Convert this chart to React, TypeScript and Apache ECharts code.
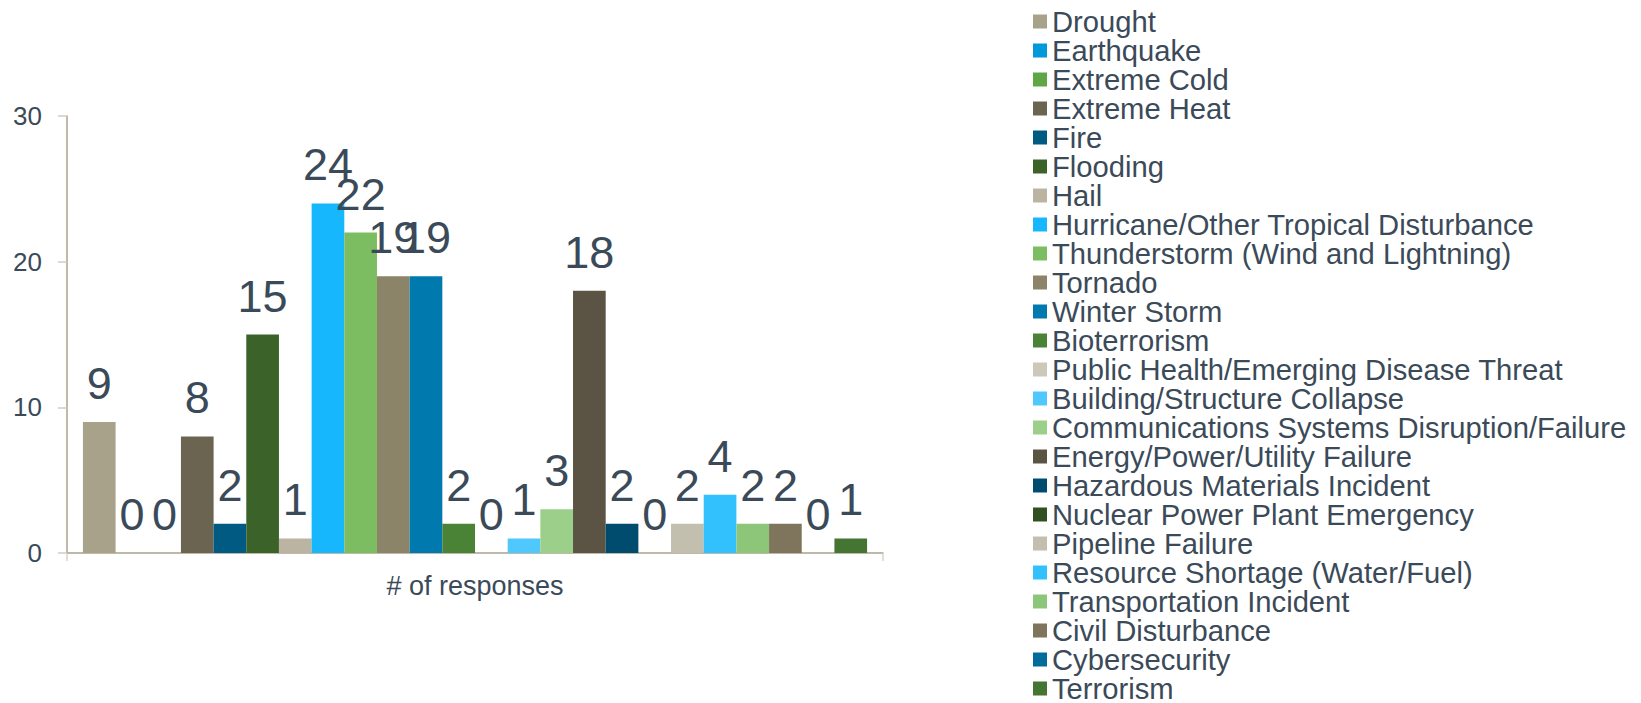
import React, { useEffect, useRef } from "react";
import * as echarts from "echarts";

const categories = ["# of responses"];

const seriesNames = [
  "Drought",
  "Earthquake",
  "Extreme Cold",
  "Extreme Heat",
  "Fire",
  "Flooding",
  "Hail",
  "Hurricane/Other Tropical Disturbance",
  "Thunderstorm (Wind and Lightning)",
  "Tornado",
  "Winter Storm",
  "Bioterrorism",
  "Public Health/Emerging Disease Threat",
  "Building/Structure Collapse",
  "Communications Systems Disruption/Failure",
  "Energy/Power/Utility Failure",
  "Hazardous Materials Incident",
  "Nuclear Power Plant Emergency",
  "Pipeline Failure",
  "Resource Shortage (Water/Fuel)",
  "Transportation Incident",
  "Civil Disturbance",
  "Cybersecurity",
  "Terrorism",
];

const seriesValues = [9, 0, 0, 8, 2, 15, 1, 24, 22, 19, 19, 2, 0, 1, 3, 18, 2, 0, 2, 4, 2, 2, 0, 1];

const seriesColors = [
  "#A9A28A",
  "#0099DA",
  "#5FA646",
  "#6B6450",
  "#005A82",
  "#3B6229",
  "#BBB4A3",
  "#17B7FD",
  "#7CBD62",
  "#8C8468",
  "#007AAE",
  "#4A8236",
  "#CCC8BA",
  "#4FC9FD",
  "#9CCF89",
  "#5B5444",
  "#004C6E",
  "#30501F",
  "#C3BFAE",
  "#33C1FE",
  "#8DC678",
  "#7E755C",
  "#006C9B",
  "#457533",
];

const yTicks = { min: 0, max: 30, interval: 10 };

const textColor = "#3B4A58";
const fontFamily = "'Liberation Sans', Arial, sans-serif";

export default function App() {
  const ref = useRef<HTMLDivElement>(null);
  useEffect(() => {
    if (!ref.current) return;
    const chart = echarts.init(ref.current, null, { renderer: "svg" });
    chart.setOption({
      animation: false,
      textStyle: { fontFamily },
      grid: { left: 67, right: 758, top: 116, bottom: 150, containLabel: false },
      legend: {
        orient: "vertical",
        left: 1033,
        top: 7,
        height: 800,
        padding: 0,
        icon: "rect",
        itemWidth: 14,
        itemHeight: 14,
        itemGap: 0,
        textStyle: { fontSize: 29.2, lineHeight: 29, color: textColor, fontFamily },
        data: seriesNames,
      },
      xAxis: {
        type: "category",
        data: categories,
        axisLine: { show: true, lineStyle: { color: "#A8A28C", width: 1.5 } },
        axisTick: { show: true, length: 8, lineStyle: { color: "#D6D3C8", width: 1.5 } },
        axisLabel: { fontSize: 27, color: textColor, margin: 19, fontFamily },
      },
      yAxis: {
        type: "value",
        min: yTicks.min,
        max: yTicks.max,
        interval: yTicks.interval,
        axisLine: { show: true, lineStyle: { color: "#A8A28C", width: 1.5 } },
        axisTick: { show: true, length: 9, lineStyle: { color: "#D0CCC0", width: 1.5 } },
        splitLine: { show: false },
        axisLabel: { fontSize: 26, color: textColor, margin: 25, fontFamily },
      },
      series: seriesNames.map((name, i) => ({
        name,
        type: "bar",
        data: [seriesValues[i]],
        barGap: "0%",
        barCategoryGap: "3.9%",
        itemStyle: { color: seriesColors[i] },
        label: {
          show: true,
          position: "top",
          distance: 16,
          fontSize: 45,
          color: textColor,
          fontFamily,
        },
      })),
    });
    return () => chart.dispose();
  }, []);
  return (
    <div
      ref={ref}
      style={{ position: "absolute", left: 0, top: 0, width: 1641, height: 703, background: "#fff" }}
    />
  );
}
